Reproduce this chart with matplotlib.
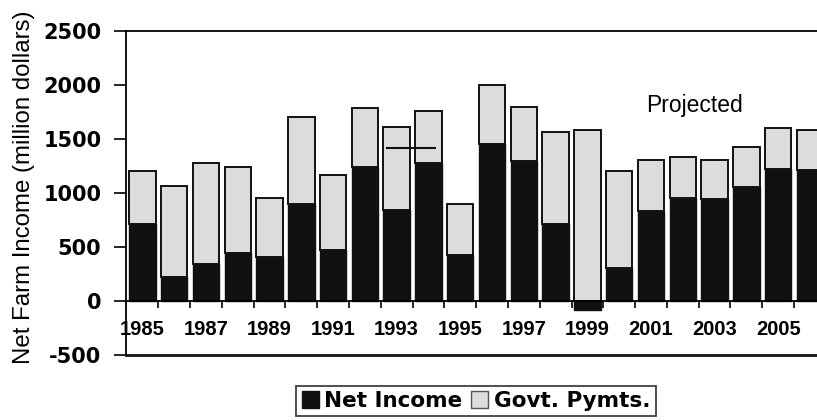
import numpy as np
import matplotlib
matplotlib.use("Agg")
import matplotlib.pyplot as plt
from matplotlib.patches import Patch

# Net farm income and government payments, million dollars
years = list(range(1985, 2007))
net_income = [710, 220, 340, 445, 405, 900, 470, 1245, 840, 1275, 425,
              1455, 1300, 710, -85, 305, 835, 950, 940, 1060, 1225, 1210]
govt_pymts = [495, 845, 940, 800, 550, 800, 700, 545, 775, 480, 470,
              545, 495, 855, 1580, 895, 470, 385, 365, 370, 375, 370]
tick_years = [str(y) for y in range(1985, 2006, 2)]
ref_level = 1415          # reference level spanning 1993-1994
y_ticks = [-500, 0, 500, 1000, 1500, 2000, 2500]

fig = plt.figure(figsize=(8.17, 4.20), dpi=100)
ax = fig.add_axes([0.1548, 0.1548, 0.856, 0.7714])

x = np.arange(len(years))
net = np.array(net_income)
gov = np.array(govt_pymts)
base = np.clip(net, 0, None)
w = 0.83

ax.bar(x, net, width=w, color="#111111", edgecolor="#111111", linewidth=1.0, zorder=2)
ax.bar(x, gov, width=w, bottom=base, color="#dcdcdc", edgecolor="#111111",
       linewidth=1.4, zorder=2)

ax.hlines(ref_level, 7.65, 9.25, color="#111111", linewidth=1.5, zorder=3)

ax.set_xlim(-0.5, len(years) - 0.5)
ax.set_ylim(-500, 2500)

# category boundaries as ticks on the zero line, year labels at odd years
ax.spines["bottom"].set_position(("data", 0))
ax.spines["bottom"].set_linewidth(1.3)
ax.spines["right"].set_visible(False)
ax.spines["top"].set_linewidth(1.3)
ax.spines["left"].set_linewidth(1.3)
ax.axhline(-500, color="#111111", linewidth=2.0, clip_on=False, zorder=4)

ax.set_xticks(np.arange(0.5, len(years) - 0.5, 1.0))
ax.set_xticklabels([])
ax.tick_params(axis="x", which="major", direction="out", length=5, width=1.2)
ax.set_xticks(np.arange(0, len(years), 2), minor=True)
ax.set_xticklabels(tick_years, minor=True,
                   fontdict={"family": "Liberation Sans", "weight": "bold", "size": 14.5})
ax.tick_params(axis="x", which="minor", length=0, pad=14)

ax.set_yticks(y_ticks)
ax.set_yticklabels([str(v) for v in y_ticks],
                   fontdict={"family": "DejaVu Sans", "weight": "bold", "size": 15})
ax.tick_params(axis="y", direction="out", length=9, width=1.2, pad=9)

fig.text(24 / 817, 0.5545, "Net Farm Income (million dollars)", rotation=90,
         ha="center", va="center", family="Liberation Sans", fontsize=17.3)

ax.text(15.85, 1812, "Projected", family="Liberation Sans", fontsize=16.5,
        ha="left", va="center")

handles = [Patch(facecolor="#111111", edgecolor="#111111", label="Net Income"),
           Patch(facecolor="#dcdcdc", edgecolor="#555555", label="Govt. Pymts.")]
leg = fig.legend(handles=handles, loc="center", bbox_to_anchor=(0.5826, 0.045),
                 ncol=2, frameon=True, fancybox=False, handlelength=0.8,
                 handleheight=0.8, handletextpad=0.25, columnspacing=0.4,
                 borderpad=0.25, borderaxespad=0,
                 prop={"family": "DejaVu Sans", "weight": "bold", "size": 15.5})
leg.get_frame().set_edgecolor("#111111")
leg.get_frame().set_linewidth(1.3)

fig.savefig("out.png", dpi=100)
